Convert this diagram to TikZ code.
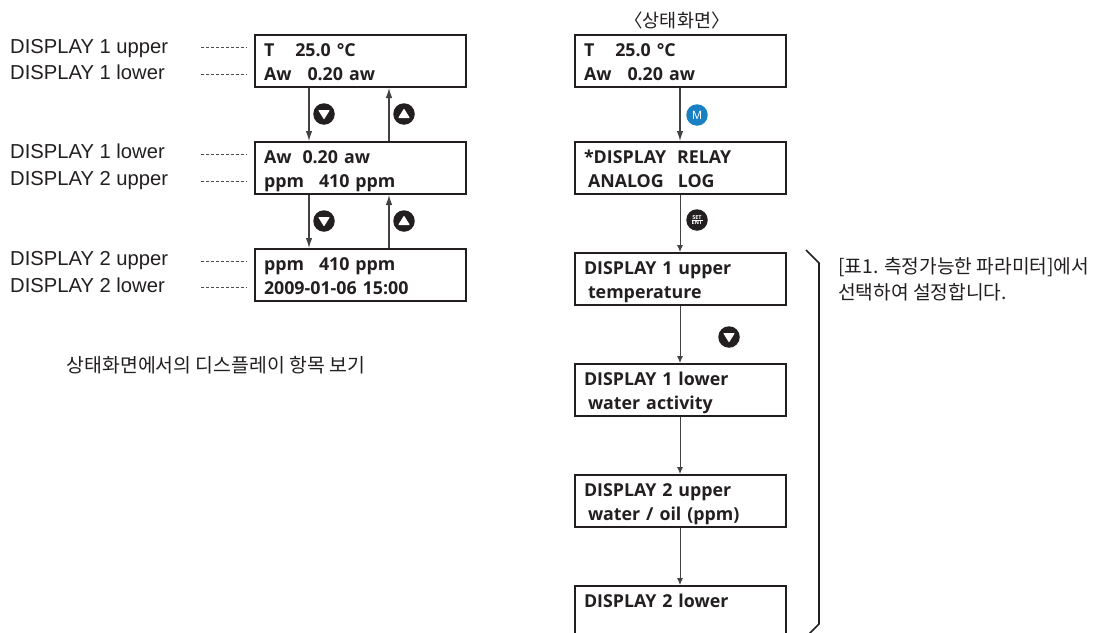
\documentclass[tikz,border=0pt]{standalone}
\usepackage{fontspec}
\setmainfont{Liberation Sans}
\newfontfamily\lcdfont{Open Sans}
\newfontfamily\krfont{Noto Sans CJK KR}
\usetikzlibrary{positioning, arrows.meta}
\definecolor{inkblack}{HTML}{231F20}
\definecolor{keyblue}{HTML}{1A80C4}
\tikzset{
    lcd/.style={draw=inkblack,line width=2pt,text=inkblack,minimum width=211pt,minimum height=52pt,
        text width=192pt,text height=14pt,text depth=24pt,align=left,inner sep=0pt,
        font=\lcdfont\fontsize{17.8}{24}\selectfont\bfseries},
    flow/.style={draw=inkblack!85,line width=1.1pt,-{Latex[length=10pt,width=6.5pt]}},
    flowsmall/.style={draw=inkblack!85,line width=.9pt,-{Latex[length=7pt,width=6pt]}},
    leader/.style={draw=inkblack!80,line width=.5pt,dash pattern=on 3pt off 2pt},
    tag/.style={anchor=base west,inner sep=0pt,text=inkblack,font=\fontsize{20.2}{20.2}\selectfont},
    kr/.style={inner sep=0pt,text=inkblack,font=\krfont\fontsize{19.2}{26.5}\selectfont},
    btn/.style={circle,fill=inkblack,minimum size=21.5pt,inner sep=0pt},
    btndown/.style={btn,path picture={\fill[white,draw=white,line width=1pt,line join=round]
        ([shift={(-5pt,3.5pt)}]path picture bounding box.center) -- ++(10pt,0pt) -- ++(-5pt,-8pt) -- cycle;}},
    btnup/.style={btn,path picture={\fill[white,draw=white,line width=1pt,line join=round]
        ([shift={(-5pt,-3.5pt)}]path picture bounding box.center) -- ++(10pt,0pt) -- ++(-5pt,8pt) -- cycle;}},
}
\begin{document}
\begin{tikzpicture}[x=1pt,y=-1pt,node distance=53pt]
    \clip (0,0) rectangle (1100,632);
    \fill[white] (0,0) rectangle (1100,632);

    % left column
    \node[lcd] (view1) at (360,61) {T\hspace{21pt}25.0 °C\\Aw\hspace{16pt}0.20 aw};
    \node[lcd] (view2) [below=of view1] {Aw\hspace{11pt}0.20 aw\\ppm\hspace{15pt}410 ppm};
    \node[lcd] (view3) [below=of view2] {ppm\hspace{15pt}410 ppm\\2009-01-06 15:00};

    \draw[flow] ([xshift=-51pt]view1.south) -- ([xshift=-51pt]view2.north);
    \draw[flow] ([xshift=29pt]view2.north) -- ([xshift=29pt]view1.south);
    \draw[flow] ([xshift=-51pt]view2.south) -- ([xshift=-51pt]view3.north);
    \draw[flow] ([xshift=29pt]view3.north) -- ([xshift=29pt]view2.south);

    \node[btndown] (down1) at (324,114) {};
    \node[btnup] (up1) at (404,114) {};
    \node[btndown] (down2) at (324,221) {};
    \node[btnup] (up2) at (404,221) {};

    \node[tag] (tag1) at (10,53) {DISPLAY 1 upper};
    \node[tag] (tag2) at (10,79) {DISPLAY 1 lower};
    \node[tag] (tag3) at (10,158.5) {DISPLAY 1 lower};
    \node[tag] (tag4) at (10,185.5) {DISPLAY 2 upper};
    \node[tag] (tag5) at (10,265.5) {DISPLAY 2 upper};
    \node[tag] (tag6) at (10,292) {DISPLAY 2 lower};

    \foreach \row/\ypos in {1/47.5,2/74,3/154,4/181,5/261,6/287} {
        \coordinate (from\row) at (201,\ypos);
        \coordinate (to\row) at (247,\ypos);
        \draw[leader] (from\row) -- (to\row);
    }

    \node[kr,font=\krfont\fontsize{19.4}{26}\selectfont] (viewnote) at (216,365) {상태화면에서의 디스플레이 항목 보기};

    % right column
    \node[kr,font=\krfont\fontsize{18.5}{26}\selectfont] (title) at (677,20) {〈상태화면〉};
    \node[lcd] (state) at (680,61) {T\hspace{21pt}25.0 °C\\Aw\hspace{16pt}0.20 aw};
    \node[lcd] (menu) [below=of state] {*DISPLAY\hspace{11pt}RELAY\\\hspace*{4pt}ANALOG\hspace{14pt}LOG};
    \node[lcd] (par1) [below=57pt of menu] {DISPLAY 1 upper\\\hspace*{4pt}temperature};
    \node[lcd] (par2) [below=57pt of par1] {DISPLAY 1 lower\\\hspace*{4pt}water activity};
    \node[lcd] (par3) [below=57pt of par2] {DISPLAY 2 upper\\\hspace*{4pt}water / oil (ppm)};
    \node[lcd] (par4) [below=57pt of par3] {DISPLAY 2 lower\\\mbox{}};

    \draw[flow] (state) -- (menu);
    \draw[flowsmall] (menu) -- (par1);
    \draw[flowsmall] (par1) -- (par2);
    \draw[flowsmall] (par2) -- (par3);
    \draw[flowsmall] (par3) -- (par4);

    \node[btn,fill=keyblue,text=white,font=\fontsize{12}{12}\selectfont] (keym) at (697,115) {M};
    \node[btn,text=white,font=\lcdfont\fontsize{5.5}{6}\selectfont\bfseries,align=center] (keyset) at (697,220) {SET\\[-.4pt]ENT};
    \draw[white,line width=.4pt] ([xshift=-5.5pt]keyset.center) -- ([xshift=5.5pt]keyset.center);
    \node[btndown] (down3) at (729,337) {};

    \coordinate (brace1) at (806,250);
    \coordinate (brace2) at (819,263);
    \coordinate (brace3) at (819,624);
    \coordinate (brace4) at (809,634);
    \draw[draw=inkblack,line width=1.6pt] (brace1) -- (brace2) -- (brace3) -- (brace4);

    \node[kr,anchor=north west,align=left] (parnote) at (838,257) {[표1. 측정가능한 파라미터]에서\\선택하여 설정합니다.};
\end{tikzpicture}
\end{document}
